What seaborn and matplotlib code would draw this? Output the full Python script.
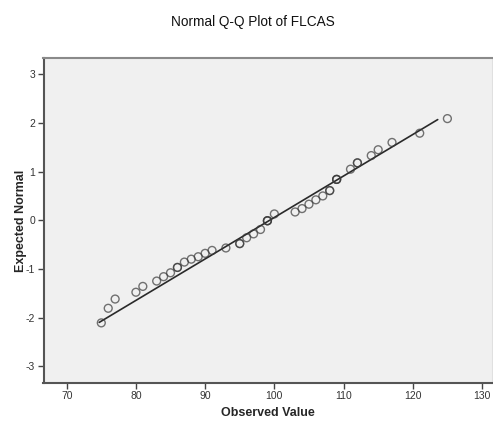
import matplotlib
matplotlib.use("Agg")
import matplotlib.pyplot as plt
import seaborn as sns
import pandas as pd

# Data
observed = [75, 76, 77, 80, 81, 83, 84, 85, 86, 87, 88, 89, 90, 91, 93, 95, 96, 97, 98, 99,
            100, 103, 104, 105, 106, 107, 108, 109, 111, 112, 114, 115, 117, 121, 125]
expected = [-2.11, -1.81, -1.62, -1.48, -1.36, -1.25, -1.16, -1.08, -0.97, -0.86, -0.80, -0.75,
            -0.68, -0.62, -0.57, -0.48, -0.36, -0.28, -0.19, -0.01, 0.13, 0.17, 0.24, 0.33,
            0.42, 0.50, 0.61, 0.84, 1.05, 1.18, 1.33, 1.45, 1.60, 1.79, 2.09]
counts = [1, 1, 1, 1, 1, 1, 1, 1, 2, 1, 1, 1, 1, 1, 1, 2, 1, 1, 1, 3,
          1, 1, 1, 1, 1, 1, 2, 3, 1, 2, 1, 1, 1, 1, 1]
line_x = [74.7, 123.6]
line_y = [-2.10, 2.07]
x_ticks = [70, 80, 90, 100, 110, 120, 130]
y_ticks = [-3, -2, -1, 0, 1, 2, 3]

rows = []
for o, e, c in zip(observed, expected, counts):
    for _ in range(c):
        rows.append((o, e))
pts = pd.DataFrame(rows, columns=["observed", "expected"])
line_df = pd.DataFrame({"x": line_x, "y": line_y})

sns.set_style("white")
plt.rcParams["font.family"] = ["Liberation Sans", "DejaVu Sans"]

fig = plt.figure(figsize=(4.93, 4.25), dpi=100)
ax = fig.add_axes([43.5 / 493, 1 - 382.7 / 425, (491.7 - 43.5) / 493, (382.7 - 58.3) / 425])
ax.set_facecolor("#f0f0f0")

sns.lineplot(data=line_df, x="x", y="y", ax=ax, color="#2a2a2a", linewidth=1.2, zorder=2)
sns.scatterplot(data=pts, x="observed", y="expected", ax=ax, marker="o",
                s=32, facecolor="none", edgecolor="#3a3a3a", linewidth=1.0,
                alpha=0.7, zorder=3)

ax.set_xlim(66.65, 131.4)
ax.set_ylim(-3.34, 3.33)
ax.set_xticks(x_ticks)
ax.set_yticks(y_ticks)
ax.set_xticklabels([str(t) for t in x_ticks], fontsize=7.5, color="#333333")
ax.set_yticklabels([str(t) for t in y_ticks], fontsize=7.5, color="#333333")
ax.tick_params(axis="both", direction="out", length=4, width=1, color="#444444", pad=2,
               bottom=True, left=True)

for side in ["left", "bottom"]:
    ax.spines[side].set_color("#555555")
    ax.spines[side].set_linewidth(1.5)
ax.spines["top"].set_color("#8a8a8a")
ax.spines["top"].set_linewidth(1.5)
ax.spines["right"].set_color("#e0e0e0")
ax.spines["right"].set_linewidth(0.8)

ax.set_xlabel("Observed Value", fontsize=9, fontweight="bold", labelpad=4)
ax.set_ylabel("Expected Normal", fontsize=9, fontweight="bold", labelpad=-1)

fig.text(0.5 * (171 + 335) / 493, 1 - 22 / 425, "Normal Q-Q Plot of FLCAS",
         ha="center", va="center", fontsize=9.8, color="#111111")

fig.savefig("out.png", dpi=100)
